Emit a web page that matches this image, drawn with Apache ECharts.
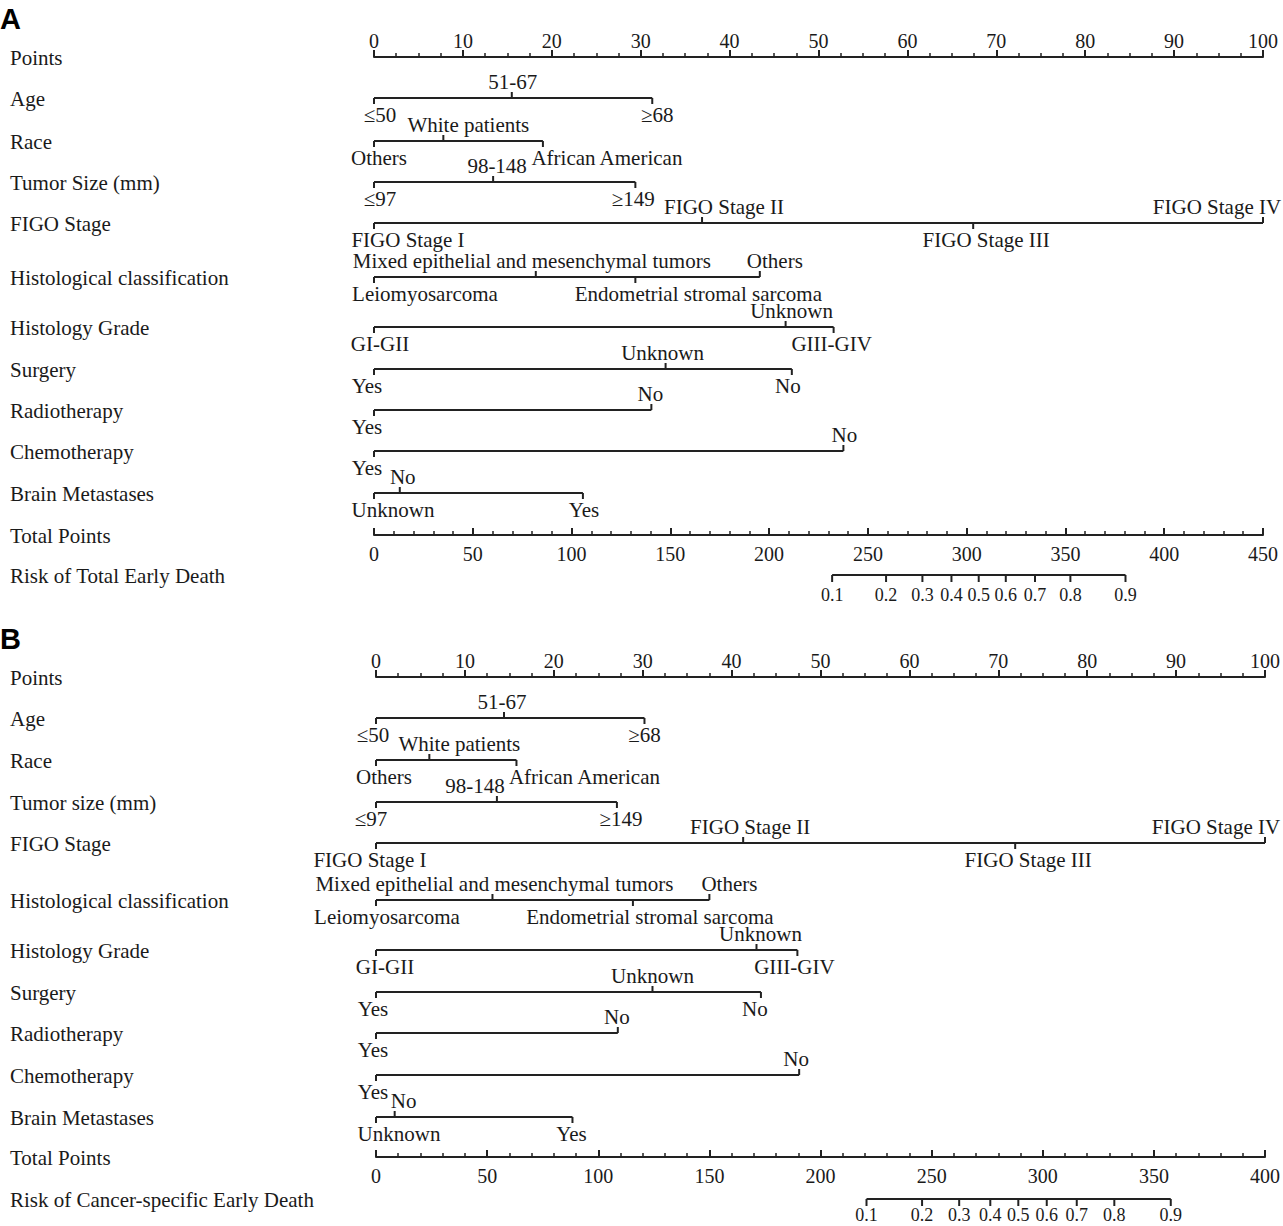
<!DOCTYPE html>
<html><head><meta charset="utf-8">
<script src="https://cdn.jsdelivr.net/npm/echarts@6/dist/echarts.min.js"></script>
<style>html,body{margin:0;padding:0;background:#fff}#c{width:1283px;height:1226px}</style>
</head><body><div id="c"></div>
<script>
// ---------------- DATA ----------------
const pointsTickLabels = [0,10,20,30,40,50,60,70,80,90,100];
const totalTickLabelsA = [0,50,100,150,200,250,300,350,400,450];
const totalTickLabelsB = [0,50,100,150,200,250,300,350,400];

const ageLevels = ["≤50","51-67","≥68"];
const raceLevels = ["Others","White patients","African American"];
const sizeLevels = ["≤97","98-148","≥149"];
const figoLevels = ["FIGO Stage I","FIGO Stage II","FIGO Stage III","FIGO Stage IV"];
const histLevels = ["Leiomyosarcoma","Mixed epithelial and mesenchymal tumors","Endometrial stromal sarcoma","Others"];
const gradeLevels = ["GI-GII","Unknown","GIII-GIV"];
const surgeryLevels = ["Yes","Unknown","No"];
const radioLevels = ["Yes","No"];
const chemoLevels = ["Yes","No"];
const brainLevels = ["Unknown","No","Yes"];
const riskLabels = ["0.1","0.2","0.3","0.4","0.5","0.6","0.7","0.8","0.9"];

// Panel A (total early death) – points per level
const agePtsA = [0,15.5,31.3];
const racePtsA = [0,7.8,19.0];
const sizePtsA = [0,13.4,29.4];
const figoPtsA = [0,36.9,67.4,100];
const histPtsA = [0,18.2,29.4,43.4];
const gradePtsA = [0,46.3,51.7];
const surgeryPtsA = [0,32.8,47.0];
const radioPtsA = [0,31.2];
const chemoPtsA = [0,52.8];
const brainPtsA = [0,2.9,23.5];
const riskTotalA = [231.9,259.2,277.6,292.3,306.1,319.8,334.6,352.5,380.4];

// Panel B (cancer-specific early death)
const agePtsB = [0,14.4,30.2];
const racePtsB = [0,6.0,15.8];
const sizePtsB = [0,13.6,27.1];
const figoPtsB = [0,41.3,71.9,100];
const histPtsB = [0,13.1,28.9,37.5];
const gradePtsB = [0,42.8,47.4];
const surgeryPtsB = [0,31.1,43.3];
const radioPtsB = [0,27.2];
const chemoPtsB = [0,47.6];
const brainPtsB = [0,2.1,22.1];
const riskTotalB = [220.7,245.7,262.4,276.4,289.0,301.8,315.3,332.2,357.6];

const titlesA = ["Age","Race","Tumor Size (mm)","FIGO Stage","Histological classification","Histology Grade","Surgery","Radiotherapy","Chemotherapy","Brain Metastases"];
const titlesB = ["Age","Race","Tumor size (mm)","FIGO Stage","Histological classification","Histology Grade","Surgery","Radiotherapy","Chemotherapy","Brain Metastases"];

// ---------------- LAYOUT / STYLE ----------------
const LINE = '#222', TXT = '#1a1a1a';
const FONT = '"Liberation Serif","Times New Roman",serif';
const layoutA = { left:374, top:57, width:889, height:478,
  rowY:[41,84,125,166,220,270,312,353,394,436], totalY:478, riskY:518, riskLabelDy:20 };
const layoutB = { left:376, top:677, width:890, height:480,
  rowY:[41,83,125,166,223,273,315,356,398,440], totalY:480, riskY:522, riskLabelDy:16 };
// horizontal label nudges (px) per level, as placed in the original figure
const dxA = [[6,1,5],[5,25,64],[6,4,-2],[34,22,13,-46],[51,-4,63,15],[6,6,-2],[-7,-3,-4],[-7,-1],[-7,1],[19,3,1]];
const dxB = [[-3,-2,0],[8,30,68],[-5,-22,4],[-6,7,13,-49],[11,2,17,20],[9,4,-3],[-3,0,-6],[-3,-1],[-3,-3],[23,9,-1]];

const levelsList = [ageLevels,raceLevels,sizeLevels,figoLevels,histLevels,gradeLevels,surgeryLevels,radioLevels,chemoLevels,brainLevels];
const ptsListA = [agePtsA,racePtsA,sizePtsA,figoPtsA,histPtsA,gradePtsA,surgeryPtsA,radioPtsA,chemoPtsA,brainPtsA];
const ptsListB = [agePtsB,racePtsB,sizePtsB,figoPtsB,histPtsB,gradePtsB,surgeryPtsB,radioPtsB,chemoPtsB,brainPtsB];

function ptsAxis(g){
  return {type:'value', gridIndex:g, position:'top',
    min:pointsTickLabels[0], max:pointsTickLabels[pointsTickLabels.length-1],
    interval:pointsTickLabels[1]-pointsTickLabels[0],
    axisLine:{show:true,onZero:false,lineStyle:{color:LINE,width:2}},
    axisTick:{show:true,length:7,lineStyle:{color:LINE,width:2}},
    minorTick:{show:true,splitNumber:4,length:4,lineStyle:{color:LINE,width:1.5}},
    axisLabel:{margin:6,fontFamily:FONT,fontSize:20,color:TXT},
    splitLine:{show:false}, minorSplitLine:{show:false}};
}
function totAxis(g, ticks){
  return {type:'value', gridIndex:g, position:'bottom',
    min:ticks[0], max:ticks[ticks.length-1], interval:ticks[1]-ticks[0],
    axisLine:{show:true,onZero:false,lineStyle:{color:LINE,width:2}},
    axisTick:{show:true,inside:true,length:7,lineStyle:{color:LINE,width:2}},
    minorTick:{show:true,splitNumber:5,length:4,lineStyle:{color:LINE,width:1.5}},
    axisLabel:{margin:9,fontFamily:FONT,fontSize:20,color:TXT},
    splitLine:{show:false}, minorSplitLine:{show:false}};
}

function rowSeries(xi, yi, titles, ptsList, dx, L){
  const data = ptsList.map((p,i)=>[Math.max.apply(null,p), L.rowY[i], i]);
  return {type:'custom', xAxisIndex:xi, yAxisIndex:yi, clip:false, silent:true, data:data,
    renderItem:function(params, api){
      const i = api.value(2);
      const pts = ptsList[i], levels = levelsList[i];
      const y = api.coord([0, L.rowY[i]])[1];
      const xs = pts.map(p=>api.coord([p, L.rowY[i]])[0]);
      const ch = [];
      ch.push({type:'line', shape:{x1:Math.min.apply(null,xs),y1:y,x2:Math.max.apply(null,xs),y2:y}, style:{stroke:LINE,lineWidth:2}});
      const order = pts.map((p,k)=>k).sort((a,b)=>pts[a]-pts[b]);
      order.forEach((k, n)=>{
        const above = n % 2 === 1;
        const x = xs[k];
        ch.push({type:'line', shape:{x1:x,y1:y,x2:x,y2:above?y-6:y+6}, style:{stroke:LINE,lineWidth:2}});
        ch.push({type:'text', style:{text:levels[k], x:x+dx[i][k], y:above?y-16.5:y+17,
          align:'center', verticalAlign:'middle', fontFamily:FONT, fontSize:21, fill:TXT}});
      });
      ch.push({type:'text', style:{text:titles[i], x:10, y:y+1, align:'left', verticalAlign:'middle', fontFamily:FONT, fontSize:21, fill:TXT}});
      return {type:'group', children:ch};
    }};
}

function titleSeries(xi, yi, names, ys){
  return {type:'custom', xAxisIndex:xi, yAxisIndex:yi, clip:false, silent:true,
    data: ys.map((y,i)=>[0,y,i]),
    renderItem:function(params, api){
      const i = api.value(2);
      const y = api.coord([0, ys[i]])[1];
      return {type:'text', style:{text:names[i], x:10, y:y+1, align:'left', verticalAlign:'middle', fontFamily:FONT, fontSize:21, fill:TXT}};
    }};
}

function riskSeries(xi, yi, totals, L){
  return {type:'custom', xAxisIndex:xi, yAxisIndex:yi, clip:false, silent:true,
    data: totals.map((t,i)=>[t, L.riskY, i]),
    renderItem:function(params, api){
      const i = api.value(2);
      const p = api.coord([totals[i], L.riskY]);
      const ch = [];
      if (i === 0){
        const pe = api.coord([totals[totals.length-1], L.riskY]);
        ch.push({type:'line', shape:{x1:p[0],y1:p[1],x2:pe[0],y2:pe[1]}, style:{stroke:LINE,lineWidth:2}});
      }
      ch.push({type:'line', shape:{x1:p[0],y1:p[1],x2:p[0],y2:p[1]+7}, style:{stroke:LINE,lineWidth:2}});
      ch.push({type:'text', style:{text:riskLabels[i], x:p[0], y:p[1]+L.riskLabelDy, align:'center', verticalAlign:'middle', fontFamily:FONT, fontSize:18, fill:TXT}});
      return {type:'group', children:ch};
    }};
}

const chart = echarts.init(document.getElementById('c'), null, {renderer:'svg'});
chart.setOption({
  animation:false,
  backgroundColor:'#fff',
  grid:[
    {left:layoutA.left, top:layoutA.top, width:layoutA.width, height:layoutA.height},
    {left:layoutB.left, top:layoutB.top, width:layoutB.width, height:layoutB.height}
  ],
  xAxis:[ ptsAxis(0), totAxis(0,totalTickLabelsA), ptsAxis(1), totAxis(1,totalTickLabelsB) ],
  yAxis:[
    {type:'value', gridIndex:0, min:0, max:layoutA.height, inverse:true, show:false},
    {type:'value', gridIndex:1, min:0, max:layoutB.height, inverse:true, show:false}
  ],
  graphic:[
    {type:'text', left:0, top:4, style:{text:'A', fontFamily:'"Liberation Sans",Arial,sans-serif', fontWeight:'bold', fontSize:29, fill:'#000'}},
    {type:'text', left:0, top:624, style:{text:'B', fontFamily:'"Liberation Sans",Arial,sans-serif', fontWeight:'bold', fontSize:29, fill:'#000'}}
  ],
  series:[
    rowSeries(0,0,titlesA,ptsListA,dxA,layoutA),
    titleSeries(0,0,["Points","Total Points","Risk of Total Early Death"],[0,layoutA.totalY,layoutA.riskY]),
    riskSeries(1,0,riskTotalA,layoutA),
    rowSeries(2,1,titlesB,ptsListB,dxB,layoutB),
    titleSeries(2,1,["Points","Total Points","Risk of Cancer-specific Early Death"],[0,layoutB.totalY,layoutB.riskY]),
    riskSeries(3,1,riskTotalB,layoutB)
  ]
});
</script></body></html>
